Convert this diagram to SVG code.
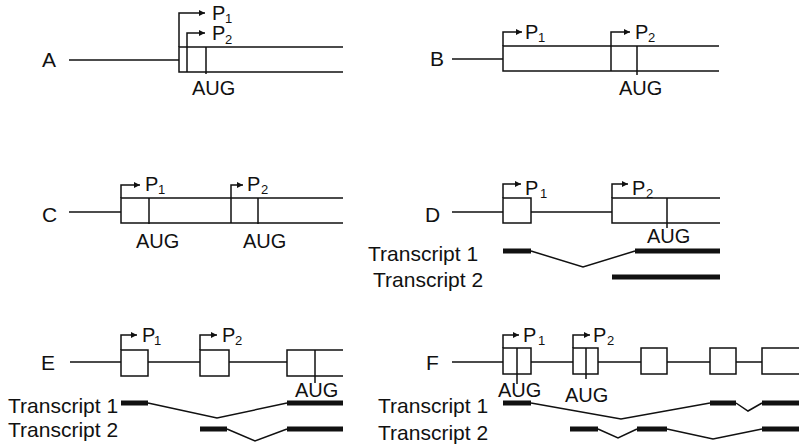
<svg xmlns="http://www.w3.org/2000/svg" width="799" height="447" viewBox="0 0 799 447">
  <style>
    .ln { fill: none; stroke: #111; stroke-width: 1.5; }
    .bx { fill: none; stroke: #111; stroke-width: 1.5; }
    .ex { fill: none; stroke: #111; stroke-width: 5; }
    .jn { fill: none; stroke: #111; stroke-width: 1.5; stroke-linejoin: miter; }
    .pr { fill: none; stroke: #111; stroke-width: 1.5; marker-end: url(#head); }
    text { font-family: "Liberation Sans", Arial, Helvetica, sans-serif; fill: #111; }
    .lab { font-size: 21px; }
    .p { font-size: 20px; }
    .sub { font-size: 13px; }
    .aug { font-size: 20px; }
    .tr { font-size: 21px; }
  </style>
  <defs>
    <marker id="head" markerUnits="userSpaceOnUse" markerWidth="7" markerHeight="7" refX="6" refY="3" orient="auto">
      <path d="M0,0 L6,3 L0,6 z" fill="#111"/>
    </marker>
  </defs>

  <!-- Panel A: two promoters at the 5' end of a single exon -->
  <g id="panel-A">
    <text class="lab" x="42" y="67">A</text>
    <path class="ln" d="M69,60 H179"/>
    <path class="bx" d="M343,47 H179 V72 H343"/>
    <path class="ln" d="M187,47 V72 M206,47 V74"/>
    <g id="A-promoters">
      <path class="pr" d="M179,47 V13 H205"/>
      <path class="pr" d="M187,47 V33 H205"/>
      <text class="p" x="212" y="20">P</text><text class="sub" x="225" y="23">1</text>
      <text class="p" x="212" y="40">P</text><text class="sub" x="225" y="44">2</text>
    </g>
    <text class="aug" x="192" y="95">AUG</text>
  </g>

  <!-- Panel B: second promoter further inside the exon -->
  <g id="panel-B">
    <text class="lab" x="430" y="66">B</text>
    <path class="ln" d="M452,59 H503"/>
    <path class="bx" d="M719,46 H503 V71 H719"/>
    <path class="ln" d="M611,46 V71 M637,46 V75"/>
    <g id="B-promoters">
      <path class="pr" d="M503,46 V32 H522"/>
      <path class="pr" d="M611,46 V32 H630"/>
      <text class="p" x="525" y="39">P</text><text class="sub" x="538" y="42">1</text>
      <text class="p" x="635" y="39">P</text><text class="sub" x="648" y="42">2</text>
    </g>
    <text class="aug" x="619" y="95">AUG</text>
  </g>

  <!-- Panel C: each promoter followed by its own start codon -->
  <g id="panel-C">
    <text class="lab" x="42" y="222">C</text>
    <path class="ln" d="M69,212 H121"/>
    <path class="bx" d="M343,198 H121 V223 H343"/>
    <path class="ln" d="M149,198 V224 M231,198 V223 M258,198 V224"/>
    <g id="C-promoters">
      <path class="pr" d="M121,198 V185 H140"/>
      <path class="pr" d="M231,198 V185 H243"/>
      <text class="p" x="145" y="191">P</text><text class="sub" x="158" y="194">1</text>
      <text class="p" x="247" y="191">P</text><text class="sub" x="261" y="194">2</text>
    </g>
    <text class="aug" x="136" y="248">AUG</text>
    <text class="aug" x="243" y="248">AUG</text>
  </g>

  <!-- Panel D: first promoter on a separate upstream exon -->
  <g id="panel-D">
    <text class="lab" x="425" y="222">D</text>
    <path class="ln" d="M452,212 H503 M531,212 H612"/>
    <rect class="bx" x="503" y="198" width="28" height="25"/>
    <path class="bx" d="M720,198 H612 V223 H720"/>
    <path class="ln" d="M667,198 V228"/>
    <g id="D-promoters">
      <path class="pr" d="M503,198 V184 H521"/>
      <path class="pr" d="M612,198 V184 H628"/>
      <text class="p" x="525" y="195">P</text><text class="sub" x="540" y="198">1</text>
      <text class="p" x="632" y="195">P</text><text class="sub" x="646" y="198">2</text>
    </g>
    <text class="aug" x="647" y="243">AUG</text>
    <g id="D-transcripts">
      <text class="tr" x="368" y="261">Transcript 1</text>
      <path class="ex" d="M503,251 H531 M635,251 H720"/>
      <path class="jn" d="M531,251 L583,267 L635,251"/>
      <text class="tr" x="373" y="287">Transcript 2</text>
      <path class="ex" d="M612,277 H720"/>
    </g>
  </g>

  <!-- Panel E: two upstream promoter exons spliced to a shared coding exon -->
  <g id="panel-E">
    <text class="lab" x="41" y="370">E</text>
    <path class="ln" d="M70,362 H121 M148,362 H200 M229,362 H287"/>
    <rect class="bx" x="121" y="350" width="27" height="26"/>
    <rect class="bx" x="200" y="350" width="29" height="26"/>
    <path class="bx" d="M343,350 H287 V376 H343"/>
    <path class="ln" d="M315,350 V383"/>
    <g id="E-promoters">
      <path class="pr" d="M121,350 V335 H137"/>
      <path class="pr" d="M200,350 V335 H217"/>
      <text class="p" x="142" y="342">P</text><text class="sub" x="154" y="345">1</text>
      <text class="p" x="222" y="342">P</text><text class="sub" x="235" y="345">2</text>
    </g>
    <text class="aug" x="295" y="397">AUG</text>
    <g id="E-transcripts">
      <text class="tr" x="8" y="413">Transcript 1</text>
      <path class="ex" d="M121,403 H148 M287,403 H343"/>
      <path class="jn" d="M148,403 L217,418 L287,403"/>
      <text class="tr" x="8" y="437">Transcript 2</text>
      <path class="ex" d="M200,429 H227 M287,429 H343"/>
      <path class="jn" d="M227,429 L255,441 L287,429"/>
    </g>
  </g>

  <!-- Panel F: alternative first exons, each carrying a start codon -->
  <g id="panel-F">
    <text class="lab" x="426" y="370">F</text>
    <path class="ln" d="M452,362 H503 M531,362 H573 M598,362 H641 M667,362 H710 M736,362 H762"/>
    <rect class="bx" x="503" y="348" width="28" height="26"/>
    <rect class="bx" x="573" y="348" width="25" height="26"/>
    <rect class="bx" x="641" y="348" width="26" height="26"/>
    <rect class="bx" x="710" y="348" width="26" height="26"/>
    <path class="bx" d="M799,348 H762 V374 H799"/>
    <path class="ln" d="M517,348 V384 M586,348 V379"/>
    <g id="F-promoters">
      <path class="pr" d="M503,348 V335 H519"/>
      <path class="pr" d="M573,348 V335 H590"/>
      <text class="p" x="523" y="342">P</text><text class="sub" x="538" y="345">1</text>
      <text class="p" x="593" y="342">P</text><text class="sub" x="607" y="345">2</text>
    </g>
    <text class="aug" x="498" y="397">AUG</text>
    <text class="aug" x="565" y="402">AUG</text>
    <g id="F-transcripts">
      <text class="tr" x="378" y="413">Transcript 1</text>
      <path class="ex" d="M503,403 H531 M710,403 H736 M762,403 H799"/>
      <path class="jn" d="M531,403 L621,419 L710,403 M736,403 L748,411 L762,403"/>
      <text class="tr" x="378" y="440">Transcript 2</text>
      <path class="ex" d="M570,429 H598 M637,429 H667 M762,429 H799"/>
      <path class="jn" d="M598,429 L618,438 L637,429 M667,429 L713,439 L762,429"/>
    </g>
  </g>
</svg>
